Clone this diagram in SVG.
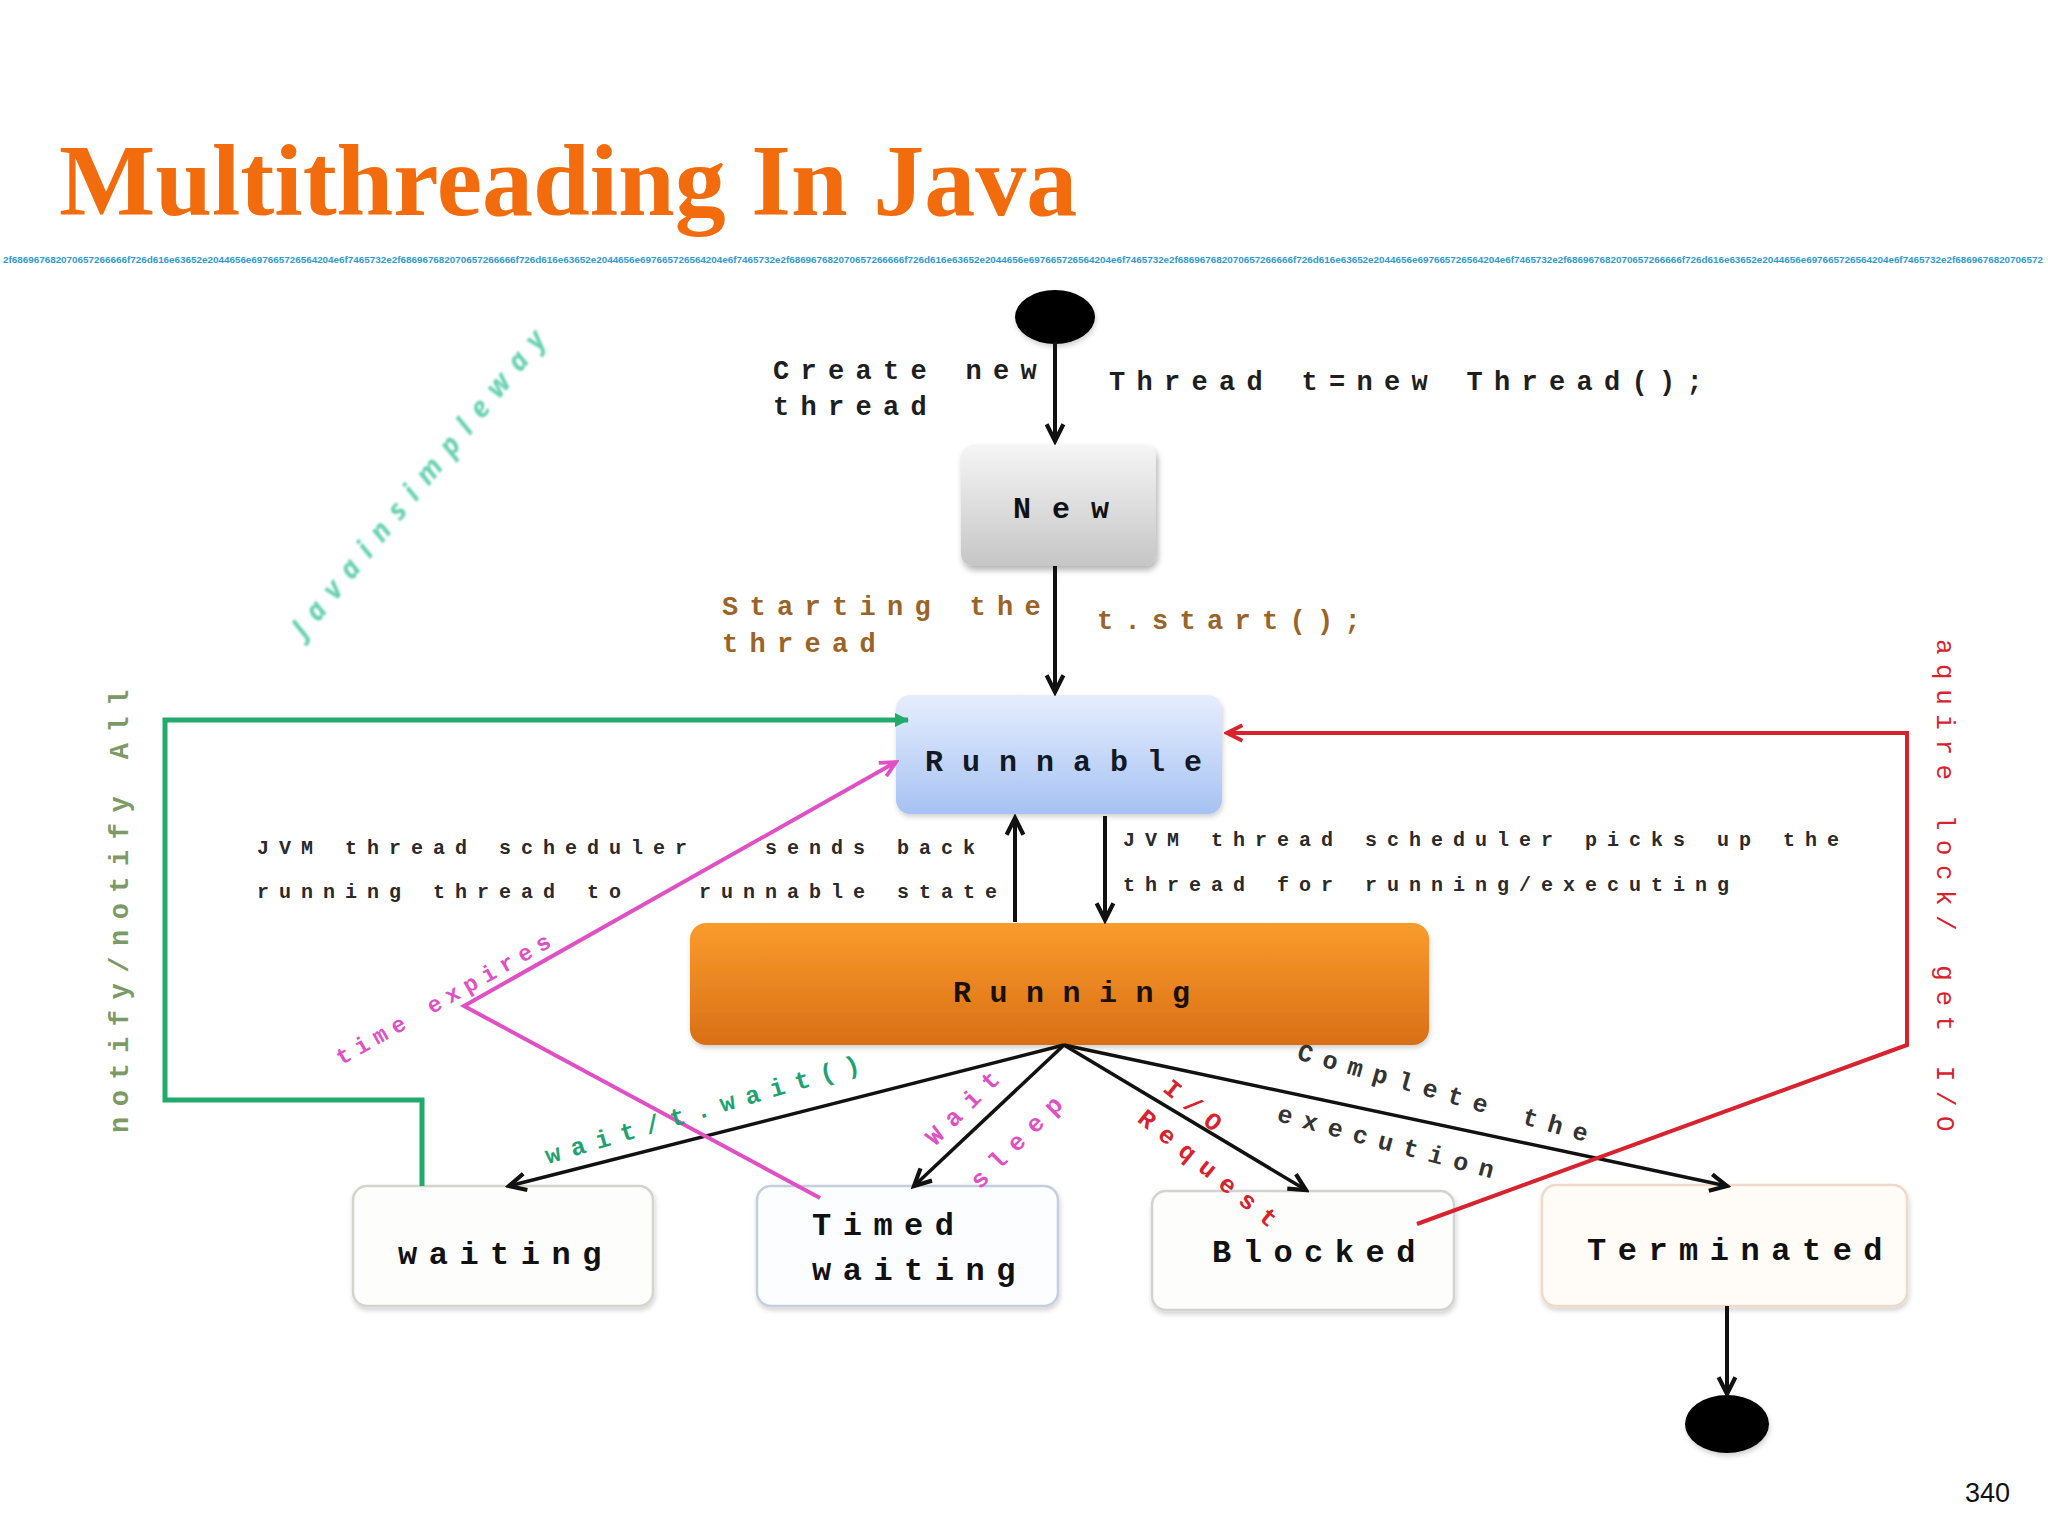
<svg xmlns="http://www.w3.org/2000/svg" width="2048" height="1536" viewBox="0 0 2048 1536">
<style>
.lbl{font-family:"Liberation Mono","Courier New",monospace;font-size:27px;font-weight:bold;letter-spacing:11.3px;fill:#1e1e1e;}
.small{font-family:"Liberation Mono","Courier New",monospace;font-size:20px;font-weight:bold;letter-spacing:10px;fill:#2a2a2a;}
.box{font-family:"Liberation Mono","Courier New",monospace;font-size:32px;font-weight:bold;letter-spacing:11.5px;fill:#111;}
.big{font-family:"Liberation Mono","Courier New",monospace;font-size:30px;font-weight:bold;fill:#111;}
.rot{font-family:"Liberation Mono","Courier New",monospace;font-size:25px;font-weight:bold;letter-spacing:11px;}
.blk{stroke:#111;stroke-width:4;fill:none;}
.thin{stroke:#111;stroke-width:3.5;fill:none;}
.plain{fill:#fdfdfb;stroke-width:2.5;}
</style>
<defs>
<linearGradient id="gNew" x1="0" y1="0" x2="0" y2="1"><stop offset="0" stop-color="#f5f5f5"/><stop offset="1" stop-color="#c6c6c6"/></linearGradient>
<linearGradient id="gRunnable" x1="0" y1="0" x2="0" y2="1"><stop offset="0" stop-color="#e6eefd"/><stop offset="1" stop-color="#a6c2f3"/></linearGradient>
<linearGradient id="gRunning" x1="0" y1="0" x2="0" y2="1"><stop offset="0" stop-color="#fa9c2c"/><stop offset="1" stop-color="#d96f16"/></linearGradient>
<filter id="sh" x="-10%" y="-10%" width="130%" height="140%"><feDropShadow dx="2" dy="4" stdDeviation="3" flood-color="#000" flood-opacity="0.3"/></filter>
<filter id="shl" x="-10%" y="-10%" width="130%" height="140%"><feDropShadow dx="1" dy="3" stdDeviation="2.5" flood-color="#000" flood-opacity="0.18"/></filter>
<filter id="blur"><feGaussianBlur stdDeviation="0.9"/></filter>
<marker id="aB" viewBox="0 0 20 20" refX="17" refY="10" markerWidth="24" markerHeight="24" markerUnits="userSpaceOnUse" orient="auto"><path d="M3,3 L17,10 L3,17" fill="none" stroke="#111" stroke-width="3.5"/></marker>
<marker id="aG" viewBox="0 0 20 20" refX="17" refY="10" markerWidth="20" markerHeight="20" markerUnits="userSpaceOnUse" orient="auto"><path d="M4,3 L18,10 L4,17 Z" fill="#22aa6c"/></marker>
<marker id="aR" viewBox="0 0 20 20" refX="17" refY="10" markerWidth="22" markerHeight="22" markerUnits="userSpaceOnUse" orient="auto"><path d="M3,3 L17,10 L3,17" fill="none" stroke="#d8222e" stroke-width="3.5"/></marker>
<marker id="aP" viewBox="0 0 20 20" refX="17" refY="10" markerWidth="22" markerHeight="22" markerUnits="userSpaceOnUse" orient="auto"><path d="M3,3 L17,10 L3,17" fill="none" stroke="#e050c4" stroke-width="3.5"/></marker>
</defs>
<rect width="2048" height="1536" fill="#ffffff"/>

<text x="59" y="215" font-family="Liberation Serif,'Times New Roman',serif" font-weight="bold" font-size="102" fill="#f26c0d">Multithreading In Java</text>
<text x="3" y="263" font-family="Liberation Sans,Arial,sans-serif" font-size="9.5" font-weight="bold" fill="#2f9ad2" textLength="2040" lengthAdjust="spacingAndGlyphs">2f686967682070657266666f726d616e63652e2044656e697665726564204e6f7465732e2f686967682070657266666f726d616e63652e2044656e697665726564204e6f7465732e2f686967682070657266666f726d616e63652e2044656e697665726564204e6f7465732e2f686967682070657266666f726d616e63652e2044656e697665726564204e6f7465732e2f686967682070657266666f726d616e63652e2044656e697665726564204e6f7465732e2f6869676820706572</text>

<text transform="translate(426,490) rotate(-51)" text-anchor="middle" font-family="'Noto Sans',sans-serif" font-style="italic" font-weight="bold" font-size="28" fill="#3fc49c" opacity="0.8" filter="url(#blur)" textLength="385" lengthAdjust="spacing">Javainsimpleway</text>

<g id="start"><ellipse cx="1055" cy="317" rx="40" ry="27" fill="#000" filter="url(#shl)"/></g>

<g id="new">
<rect x="961" y="445" width="195" height="121" rx="12" fill="url(#gNew)" filter="url(#sh)"/>
<text x="1013" y="518" class="big" letter-spacing="21">New</text>
</g>

<g id="runnable">
<rect x="896" y="695" width="326" height="119" rx="14" fill="url(#gRunnable)" filter="url(#shl)"/>
<text x="925" y="771" class="big" letter-spacing="19" style="fill:#111826">Runnable</text>
</g>

<g id="running">
<rect x="690" y="923" width="739" height="122" rx="16" fill="url(#gRunning)" filter="url(#shl)"/>
<text x="953" y="1002" class="big" letter-spacing="18.5" style="fill:#1a1008">Running</text>
</g>

<g id="waiting">
<rect x="353" y="1186" width="300" height="120" rx="14" class="plain" stroke="#d4d4cc" filter="url(#shl)"/>
<text x="398" y="1264" class="box">waiting</text>
</g>

<g id="timed-waiting">
<rect x="757" y="1186" width="301" height="120" rx="14" class="plain" style="fill:#fbfdff" stroke="#c4cfdb" filter="url(#shl)"/>
<text x="812" y="1235" class="box">Timed</text>
<text x="812" y="1280" class="box">waiting</text>
</g>

<g id="blocked">
<rect x="1152" y="1191" width="302" height="119" rx="14" class="plain" stroke="#d2d2d2" filter="url(#shl)"/>
<text x="1212" y="1262" class="box">Blocked</text>
</g>

<g id="terminated">
<rect x="1542" y="1185" width="365" height="121" rx="14" class="plain" style="fill:#fffcf8" stroke="#efd9c8" filter="url(#shl)"/>
<text x="1587" y="1260" class="box">Terminated</text>
</g>

<g id="end"><ellipse cx="1727" cy="1424" rx="42" ry="29" fill="#000" filter="url(#shl)"/></g>

<g id="connectors">
<line class="blk" x1="1055" y1="342" x2="1055" y2="441" marker-end="url(#aB)"/>
<line class="blk" x1="1055" y1="566" x2="1055" y2="692" marker-end="url(#aB)"/>
<line class="blk" x1="1015" y1="922" x2="1015" y2="818" marker-end="url(#aB)"/>
<line class="blk" x1="1105" y1="816" x2="1105" y2="920" marker-end="url(#aB)"/>
<line class="thin" x1="1064" y1="1045" x2="509" y2="1186" marker-end="url(#aB)"/>
<line class="thin" x1="1064" y1="1045" x2="914" y2="1186" marker-end="url(#aB)"/>
<line class="thin" x1="1064" y1="1045" x2="1306" y2="1190" marker-end="url(#aB)"/>
<line class="thin" x1="1064" y1="1045" x2="1727" y2="1186" marker-end="url(#aB)"/>
<line class="blk" x1="1727" y1="1306" x2="1727" y2="1394" marker-end="url(#aB)"/>
<polyline points="422,1186 422,1100 165,1100 165,720 908,720" fill="none" stroke="#22aa6c" stroke-width="5" marker-end="url(#aG)"/>
<polyline points="1417,1224 1907,1045 1907,733 1227,733" fill="none" stroke="#d8222e" stroke-width="4" marker-end="url(#aR)"/>
<polyline points="820,1198 464,1006 896,762" fill="none" stroke="#e050c4" stroke-width="4" marker-end="url(#aP)"/>
</g>

<g id="labels">
<text x="773" y="379" class="lbl">Create new</text>
<text x="773" y="415" class="lbl">thread</text>
<text x="1109" y="390" class="lbl">Thread t=new Thread();</text>
<text x="722" y="615" class="lbl" style="fill:#9a6428">Starting the</text>
<text x="722" y="652" class="lbl" style="fill:#9a6428">thread</text>
<text x="1097" y="629" class="lbl" style="fill:#9a6428">t.start();</text>

<text x="257" y="854" class="small">JVM thread scheduler</text>
<text x="765" y="854" class="small">sends back</text>
<text x="257" y="898" class="small">running thread to</text>
<text x="699" y="898" class="small">runnable state</text>
<text x="1123" y="846" class="small">JVM thread scheduler picks up the</text>
<text x="1123" y="891" class="small">thread for running/executing</text>

<text transform="translate(450,1004) rotate(-29.5)" text-anchor="middle" class="rot" style="font-size:23px;letter-spacing:7px;fill:#e050c4">time expires</text>
<text transform="translate(710,1116) rotate(-16.5)" text-anchor="middle" class="rot" style="fill:#1fa271">wait/t.wait()</text>
<text transform="translate(972,1110) rotate(-45)" text-anchor="middle" class="rot" style="fill:#e050c4">Wait</text>
<text transform="translate(1026,1144) rotate(-45)" text-anchor="middle" class="rot" style="fill:#e050c4">sleep</text>
<text transform="translate(1192,1115) rotate(39)" text-anchor="middle" class="rot" style="fill:#d8222e">I/O</text>
<text transform="translate(1207,1178) rotate(39)" text-anchor="middle" class="rot" style="fill:#d8222e">Request</text>
<text transform="translate(1446,1102) rotate(16)" text-anchor="middle" class="rot" style="fill:#333">Complete the</text>
<text transform="translate(1389,1151) rotate(15)" text-anchor="middle" class="rot" style="fill:#333">execution</text>
<text transform="translate(128,906) rotate(-90)" text-anchor="middle" class="rot" style="font-size:27px;letter-spacing:10.5px;fill:#7c9a66">notify/notify All</text>
<text transform="translate(1937,890) rotate(90)" text-anchor="middle" class="rot" style="font-size:26px;font-weight:normal;letter-spacing:9.5px;fill:#d8222e">aquire lock/ get I/O</text>
</g>

<text x="1965" y="1502" font-family="Liberation Sans,Arial,sans-serif" font-size="27" fill="#111">340</text>
</svg>
